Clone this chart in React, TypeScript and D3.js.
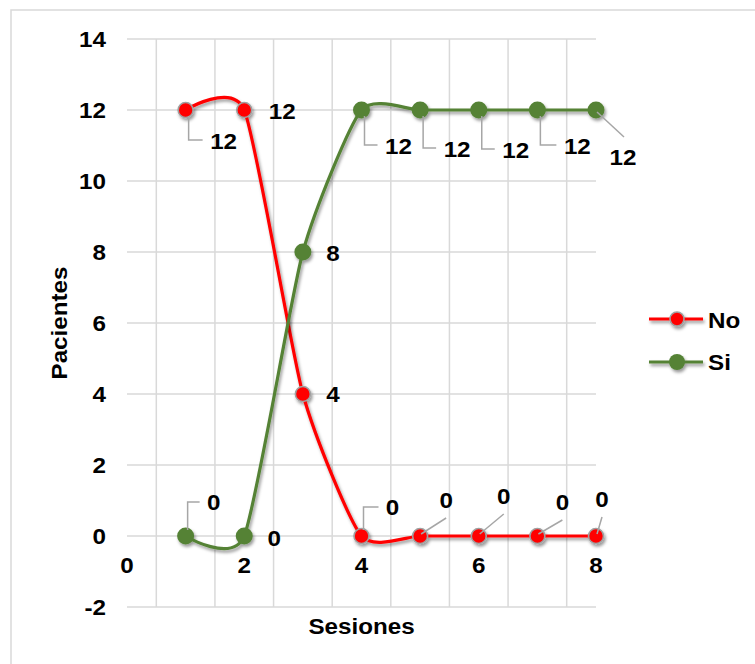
import React from "react";
import * as d3 from "d3";

// Sessions 1..8 and the number of patients per answer
const sessions = [1, 2, 3, 4, 5, 6, 7, 8];
const noValues = [12, 12, 4, 0, 0, 0, 0, 0];
const siValues = [0, 0, 8, 12, 12, 12, 12, 12];
const yTicks = [-2, 0, 2, 4, 6, 8, 10, 12, 14];
const xTicks = [0, 2, 4, 6, 8];
const xGrid = [0.5, 1.5, 2.5, 3.5, 4.5, 5.5, 6.5, 7.5];

type Leader = "none" | "elbowDown" | "elbowUp" | "diag";
interface Place { dx: number; dy: number; leader: Leader }

// Where each data label sits relative to its point
const noPlaces: Place[] = [
  { dx: 38, dy: 31, leader: "elbowDown" },
  { dx: 38, dy: 1, leader: "none" },
  { dx: 30, dy: 0, leader: "none" },
  { dx: 31, dy: -29, leader: "elbowUp" },
  { dx: 26, dy: -36, leader: "diag" },
  { dx: 25, dy: -40, leader: "diag" },
  { dx: 25, dy: -34, leader: "diag" },
  { dx: 6, dy: -37, leader: "diag" },
];
const siPlaces: Place[] = [
  { dx: 28, dy: -34, leader: "elbowUp" },
  { dx: 30, dy: 2, leader: "none" },
  { dx: 30, dy: 1, leader: "none" },
  { dx: 37, dy: 36, leader: "elbowDown" },
  { dx: 37, dy: 39, leader: "elbowDown" },
  { dx: 37, dy: 40, leader: "elbowDown" },
  { dx: 40, dy: 36, leader: "elbowDown" },
  { dx: 27, dy: 47, leader: "diag" },
];

const W = 755;
const H = 664;
const RED = "#ff0000";
const GREEN = "#548235";
const GRID = "#d9d9d9";
const LEADER = "#a6a6a6";
const FONT = "'Liberation Sans', Arial, sans-serif";
const FS = 22;
const SX = 1.1;

const x = d3.scaleLinear().domain([0, 8]).range([127, 596]);
const y = d3.scaleLinear().domain([-2, 14]).range([607, 39]);

const line = d3
  .line<[number, number]>()
  .x((d) => x(d[0]))
  .y((d) => y(d[1]))
  .curve(d3.curveCardinal.tension(0.4));

function Txt({ x: tx, y: ty, children, anchor = "middle", rotate = 0 }: any) {
  return (
    <text
      transform={`translate(${tx},${ty}) rotate(${rotate}) scale(${SX},1)`}
      textAnchor={anchor}
      dominantBaseline="central"
      fontFamily={FONT}
      fontWeight="bold"
      fontSize={FS}
      fill="#000"
    >
      {children}
    </text>
  );
}

function leaderPath(px: number, py: number, p: Place): string | null {
  const lx = px + p.dx;
  const ly = py + p.dy;
  if (p.leader === "elbowDown") {
    const vx = px + 3;
    return `M${vx},${py + 6}V${ly - 1}H${lx - 21}`;
  }
  if (p.leader === "elbowUp") {
    const vx = px + 2;
    return `M${vx},${py - 6}V${ly}H${lx - 14}`;
  }
  if (p.leader === "diag") {
    const ex = lx + (p.dy > 0 ? 1 : 0);
    const ey = p.dy > 0 ? ly - 20 : ly + 18;
    return `M${px + 1},${py + (p.dy > 0 ? 2 : -2)}L${ex},${ey}`;
  }
  return null;
}

function Series({ values, color, places, outline }: any) {
  const pts: [number, number][] = sessions.map((s, i) => [s, values[i]]);
  return (
    <g>
      <g filter="url(#shadow)">
        <path d={line(pts) || ""} fill="none" stroke={color} strokeWidth={3.2} />
        {pts.map((d, i) => (
          <circle
            key={i}
            cx={x(d[0])}
            cy={y(d[1])}
            r={outline ? 7.5 : 8.5}
            fill={color}
            stroke={outline ? "#a0a0a0" : "none"}
            strokeWidth={1.6}
          />
        ))}
      </g>
      {pts.map((d, i) => {
        const lp = leaderPath(x(d[0]), y(d[1]), places[i]);
        return lp ? (
          <path key={"l" + i} d={lp} fill="none" stroke={LEADER} strokeWidth={1.5} />
        ) : null;
      })}
      {pts.map((d, i) => {
        const p = places[i];
        return (
          <Txt key={"t" + i} x={x(d[0]) + p.dx} y={y(d[1]) + p.dy}>
            {String(d[1])}
          </Txt>
        );
      })}
    </g>
  );
}

export default function App() {
  const [x0, x1] = x.range();
  const [y0, y1] = y.range();
  return (
    <svg
      width={W}
      height={H}
      style={{ position: "absolute", left: 0, top: 0, background: "#fff" }}
    >
      <defs>
        <filter id="shadow" x="-20%" y="-20%" width="140%" height="140%">
          <feDropShadow dx={1.5} dy={2.5} stdDeviation={1.8} floodColor="#000" floodOpacity={0.4} />
        </filter>
      </defs>
      <rect x={11} y={10} width={W} height={H} fill="#fff" stroke={GRID} strokeWidth={1.5} />

      {/* gridlines */}
      {yTicks.map((t) => (
        <line key={"h" + t} x1={x0} x2={x1} y1={y(t)} y2={y(t)} stroke={GRID} strokeWidth={1.5} />
      ))}
      {xGrid.map((t) => (
        <line key={"v" + t} x1={x(t)} x2={x(t)} y1={y1} y2={y0} stroke={GRID} strokeWidth={1.5} />
      ))}

      {/* axis tick labels */}
      {yTicks.map((t) => (
        <Txt key={"yt" + t} x={106} y={y(t)} anchor="end">
          {String(t)}
        </Txt>
      ))}
      {xTicks.map((t) => (
        <Txt key={"xt" + t} x={x(t)} y={y(0) + 29}>
          {String(t)}
        </Txt>
      ))}

      {/* axis titles */}
      <Txt x={59} y={(y0 + y1) / 2} rotate={-90}>
        Pacientes
      </Txt>
      <Txt x={(x0 + x1) / 2} y={626}>
        Sesiones
      </Txt>

      <Series values={noValues} color={RED} places={noPlaces} outline />
      <Series values={siValues} color={GREEN} places={siPlaces} outline={false} />

      {/* legend */}
      <g filter="url(#shadow)">
        <line x1={649} x2={703} y1={319} y2={319} stroke={RED} strokeWidth={3.2} />
        <circle cx={677} cy={319} r={7} fill={RED} stroke="#a0a0a0" strokeWidth={1.6} />
        <line x1={649} x2={703} y1={362} y2={362} stroke={GREEN} strokeWidth={3.2} />
        <circle cx={677} cy={362} r={8} fill={GREEN} />
      </g>
      <Txt x={708} y={320} anchor="start">No</Txt>
      <Txt x={708} y={362} anchor="start">Si</Txt>
    </svg>
  );
}
